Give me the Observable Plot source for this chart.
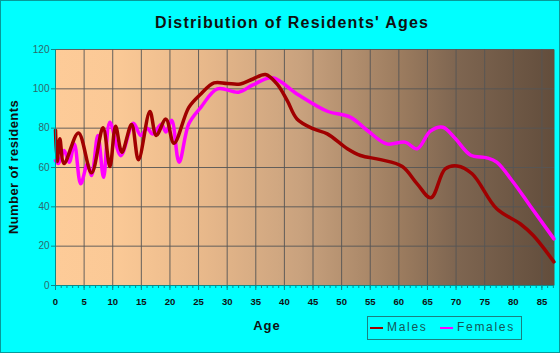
<!DOCTYPE html>
<html><head><meta charset="utf-8">
<script src="https://cdn.jsdelivr.net/npm/d3@7"></script>
<script src="https://cdn.jsdelivr.net/npm/@observablehq/plot@0.6"></script>
<style>
body{margin:0;background:#fff;}
#wrap{position:relative;width:560px;height:353px;background:#00ffff;overflow:hidden;font-family:"Liberation Sans",Arial,sans-serif;}
#wrap svg{position:absolute;left:0;top:0;}
#border{position:absolute;left:0;top:0;width:560px;height:353px;box-sizing:border-box;border:1px solid #079a9a;pointer-events:none;}
.t{position:absolute;white-space:nowrap;color:#111;font-weight:bold;}
#title{left:292px;top:23px;transform:translate(-50%,-50%);font-size:16px;letter-spacing:1.2px;}
#ytitle{left:13px;top:167px;transform:translate(-50%,-50%) rotate(-90deg);font-size:13px;letter-spacing:0.4px;}
#xtitle{left:267px;top:325px;transform:translate(-50%,-50%);font-size:13px;letter-spacing:1px;}
#legend{position:absolute;left:367px;top:316px;width:155px;height:24px;box-sizing:border-box;border:1px solid #1a8080;font-size:12px;letter-spacing:1.7px;color:#145858;}
#legend span.sw{position:absolute;top:9.5px;width:13px;height:2.5px;}
#legend span.lb{position:absolute;top:3px;}
</style></head>
<body>
<div id="wrap">
  <div id="title" class="t">Distribution of Residents' Ages</div>
  <div id="ytitle" class="t">Number of residents</div>
  <div id="xtitle" class="t">Age</div>
  <div id="legend">
    <span class="sw" style="left:2px;background:#a00000"></span><span class="lb" style="left:19px">Males</span>
    <span class="sw" style="left:72px;background:#ff00ff"></span><span class="lb" style="left:89px">Females</span>
  </div>
  <div id="border"></div>
</div>
<script>
const maleAges = [0, 0.3, 0.75, 1.5, 4.0, 6.3, 8.3, 9.5, 10.5, 11.6, 13.3, 14.5, 16.5, 17.6, 19.3, 20.7, 23.3, 25.4, 27.7, 30, 32.3, 34.5, 36.7, 38.7, 40.5, 42.2, 45.1, 47.5, 51, 53.3, 56.8, 60.6, 63.2, 65.6, 68.1, 70.2, 72.8, 77.1, 81.2, 83.5, 87.1];
const maleCounts = [79, 63, 74.6, 62, 77.6, 57.3, 80.2, 60.5, 81, 67.8, 81.9, 63.9, 88.5, 76.3, 84.6, 72.3, 90.6, 97.4, 103, 102.7, 102.5, 105, 107.3, 102.5, 94, 84.7, 79.6, 77.1, 69.5, 66.1, 64, 60.5, 51.7, 44.6, 59.3, 60.8, 56.8, 39, 31.4, 25.4, 12];
const femaleAges = [0, 0.5, 1.5, 2.4, 3.3, 4.4, 5.6, 6.3, 7.4, 8.4, 9.5, 11.4, 13.6, 14.9, 16, 17, 18.5, 19.3, 20.3, 21.6, 23.3, 25.4, 28.3, 32, 34.5, 37.9, 42.2, 47.5, 51.5, 54.5, 57.9, 61.1, 63.2, 65.5, 67.7, 69.9, 72.5, 75.4, 77.1, 80, 82.9, 87.1];
const femaleCounts = [63.5, 62, 68.6, 62.7, 72, 51.7, 61.9, 55.9, 76.3, 55, 83, 66, 82.5, 76.3, 80, 77, 82, 78, 84, 62.7, 82.2, 90.6, 100, 98.3, 102, 105.6, 97.4, 88.6, 85.6, 78.8, 72, 72.9, 69.5, 78.5, 80.5, 74.6, 66.4, 64.9, 62.7, 52.5, 40.7, 23.7];
const xTicks = [0,5,10,15,20,25,30,35,40,45,50,55,60,65,70,75,80,85];
const yTicks = [0,20,40,60,80,100,120];
const minorTicks = d3.range(0, 88, 1);

const males = maleAges.map((a, i) => ({age: a, n: maleCounts[i]}));
const females = femaleAges.map((a, i) => ({age: a, n: femaleCounts[i]}));

const chart = Plot.plot({
  width: 560, height: 353,
  marginLeft: 55, marginRight: 6, marginTop: 49, marginBottom: 68,
  style: {background: "transparent", fontFamily: "Liberation Sans, Arial, sans-serif", fontSize: "10px", overflow: "visible"},
  x: {domain: [0, 87.2]},
  y: {domain: [0, 120]},
  marks: [
    Plot.frame({fill: "#fdcb98", stroke: null}),
    Plot.gridX(xTicks, {stroke: "#555", strokeOpacity: 0.9}),
    Plot.gridY(yTicks, {stroke: "#555", strokeOpacity: 0.9}),
    Plot.line(females, {x: "age", y: "n", stroke: "#ff00ff", strokeWidth: 3.5, curve: "catmull-rom"}),
    Plot.line(males, {x: "age", y: "n", stroke: "#a00000", strokeWidth: 3.5, curve: "catmull-rom"}),
    Plot.axisX(minorTicks, {tickSize: 3, tickFormat: () => "", stroke: "#0a8a8a", label: null}),
    Plot.axisX(xTicks, {tickSize: 5, tickPadding: 8, stroke: "#0a8a8a", fill: "#111", fontSize: 9.5, fontWeight: "bold", label: null}),
    Plot.axisY(yTicks, {tickSize: 4, tickPadding: 2, stroke: "#0a8a8a", fill: "#2f6a6a", fontSize: 10, label: null}),
    Plot.ruleY([0], {stroke: "#0a8a8a"}),
    Plot.ruleX([0], {stroke: "#0a8a8a"})
  ]
});
document.getElementById("wrap").insertBefore(chart, document.getElementById("title"));

// gradient background for the plot frame
const svg = d3.select(chart);
const defs = svg.insert("defs", ":first-child");
const grad = defs.append("linearGradient").attr("id", "bgGrad").attr("x1", "0").attr("x2", "1").attr("y1", "0").attr("y2", "0");
[[0, "#fdcb98"], [0.12, "#fbc996"], [0.29, "#e9b98b"], [0.49, "#c9a27e"], [0.69, "#9c7c5f"], [0.8, "#7f6651"], [1, "#624d3c"]].forEach(([o, c]) => grad.append("stop").attr("offset", o).attr("stop-color", c));
svg.selectAll('[aria-label="frame"]').attr("fill", "url(#bgGrad)");
svg.selectAll('[aria-label="frame"] rect').attr("fill", "url(#bgGrad)");
</script>
</body></html>
